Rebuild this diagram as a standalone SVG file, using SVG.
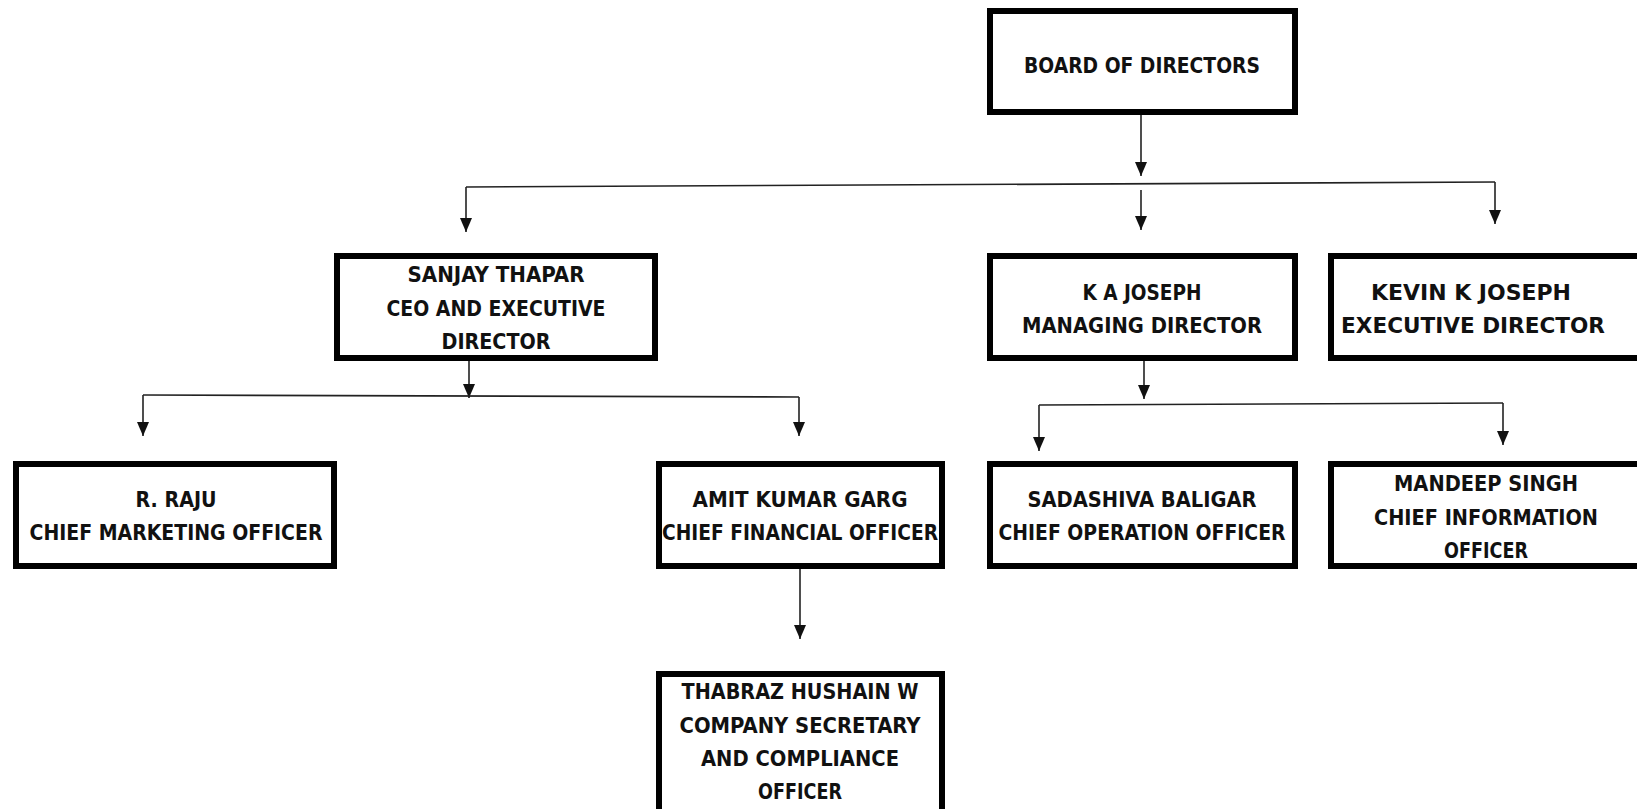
<svg xmlns="http://www.w3.org/2000/svg" width="1637" height="809" viewBox="0 0 1637 809">
<style>
.box{fill:#fff;stroke:#000;stroke-width:6}
.t{font-family:"DejaVu Sans Condensed","DejaVu Sans",sans-serif;font-weight:bold;font-size:21px;fill:#111;text-anchor:middle}
.c{fill:none;stroke:#222;stroke-width:1.6}
.a{fill:none;stroke:#222;stroke-width:1.6;marker-end:url(#ah)}
</style>
<defs>
<marker id="ah" markerUnits="userSpaceOnUse" markerWidth="12" markerHeight="14" refX="6" refY="14" orient="0" viewBox="0 0 12 14">
<path d="M0,0 L12,0 L6,14 z" fill="#111"/>
</marker>
</defs>
<rect width="1637" height="809" fill="#fff"/>
<g id="connectors">
<path class="a" d="M1141 115 V176"/>
<path class="c" d="M466 187 L1495 182"/>
<path class="a" d="M466 187 V232"/>
<path class="a" d="M1141 190 V230"/>
<path class="a" d="M1495 182 V224"/>
<path class="a" d="M469 361 V398"/>
<path class="c" d="M143 395 L799 397"/>
<path class="a" d="M143 395 V436"/>
<path class="a" d="M799 397 V436"/>
<path class="a" d="M1144 361 V399"/>
<path class="c" d="M1039 405 L1503 403"/>
<path class="a" d="M1039 405 V451"/>
<path class="a" d="M1503 403 V445"/>
<path class="a" d="M800 569 V639"/>
</g>
<g id="board">
<rect class="box" x="990" y="11" width="305" height="101"/>
<text class="t" x="1142" y="73" textLength="236" lengthAdjust="spacingAndGlyphs">BOARD OF DIRECTORS</text>
</g>
<g id="sanjay">
<rect class="box" x="337" y="256" width="318" height="102"/>
<text class="t" x="496" y="282" textLength="177" lengthAdjust="spacingAndGlyphs">SANJAY THAPAR</text>
<text class="t" x="496" y="316" textLength="219" lengthAdjust="spacingAndGlyphs">CEO AND EXECUTIVE</text>
<text class="t" x="496" y="349" textLength="109" lengthAdjust="spacingAndGlyphs">DIRECTOR</text>
</g>
<g id="kajoseph">
<rect class="box" x="990" y="256" width="305" height="102"/>
<text class="t" x="1142" y="300" textLength="119" lengthAdjust="spacingAndGlyphs">K A JOSEPH</text>
<text class="t" x="1142" y="333" textLength="240" lengthAdjust="spacingAndGlyphs">MANAGING DIRECTOR</text>
</g>
<g id="kevin">
<rect class="box" x="1331" y="256" width="312" height="102"/>
<text class="t" x="1471" y="300" textLength="200" lengthAdjust="spacingAndGlyphs">KEVIN K JOSEPH</text>
<text class="t" x="1473" y="333" textLength="264" lengthAdjust="spacingAndGlyphs">EXECUTIVE  DIRECTOR</text>
</g>
<g id="raju">
<rect class="box" x="16" y="464" width="318" height="102"/>
<text class="t" x="176" y="507" textLength="81" lengthAdjust="spacingAndGlyphs">R. RAJU</text>
<text class="t" x="176" y="540" textLength="293" lengthAdjust="spacingAndGlyphs">CHIEF MARKETING OFFICER</text>
</g>
<g id="amit">
<rect class="box" x="659" y="464" width="283" height="102"/>
<text class="t" x="800" y="507" textLength="215" lengthAdjust="spacingAndGlyphs">AMIT KUMAR GARG</text>
<text class="t" x="800" y="540" textLength="276" lengthAdjust="spacingAndGlyphs">CHIEF FINANCIAL OFFICER</text>
</g>
<g id="sadashiva">
<rect class="box" x="990" y="464" width="305" height="102"/>
<text class="t" x="1142" y="507" textLength="229" lengthAdjust="spacingAndGlyphs">SADASHIVA BALIGAR</text>
<text class="t" x="1142" y="540" textLength="287" lengthAdjust="spacingAndGlyphs">CHIEF OPERATION OFFICER</text>
</g>
<g id="mandeep">
<rect class="box" x="1331" y="464" width="312" height="102"/>
<text class="t" x="1486" y="491" textLength="184" lengthAdjust="spacingAndGlyphs">MANDEEP SINGH</text>
<text class="t" x="1486" y="525" textLength="224" lengthAdjust="spacingAndGlyphs">CHIEF INFORMATION</text>
<text class="t" x="1486" y="558" textLength="84" lengthAdjust="spacingAndGlyphs">OFFICER</text>
</g>
<g id="thabraz">
<rect class="box" x="659" y="674" width="283" height="140"/>
<text class="t" x="800" y="699" textLength="237" lengthAdjust="spacingAndGlyphs">THABRAZ HUSHAIN W</text>
<text class="t" x="800" y="733" textLength="241" lengthAdjust="spacingAndGlyphs">COMPANY SECRETARY</text>
<text class="t" x="800" y="766" textLength="198" lengthAdjust="spacingAndGlyphs">AND COMPLIANCE</text>
<text class="t" x="800" y="799" textLength="84" lengthAdjust="spacingAndGlyphs">OFFICER</text>
</g>
</svg>
